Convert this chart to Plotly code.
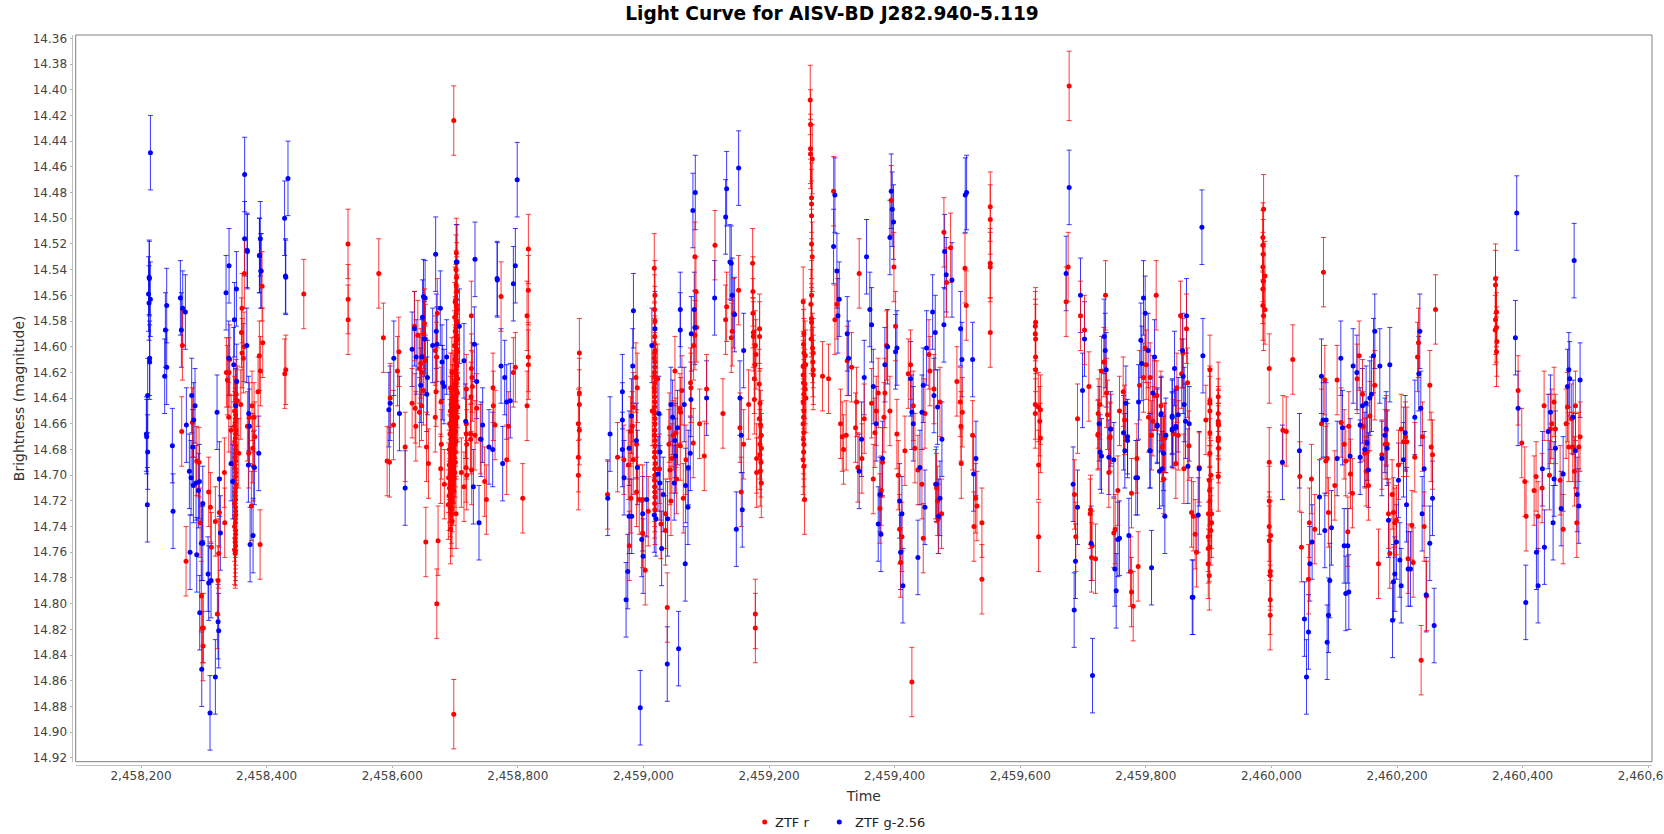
import plotly.graph_objects as go

T0 = 2458000
TITLE = "Light Curve for AISV-BD J282.940-5.119"
RED_ERR = 0.027
BLUE_ERR = 0.029

RED_2018 = [(264.8,14.666),(265.9,14.599),(271.7,14.767),(281.8,14.659),(288.7,14.689),(292.4,14.690),(294,14.737),(296.1,14.794),(297.7,14.819),(299.3,14.819),(298.8,14.833),(307.8,14.713),(310.5,14.725),(312.1,14.756),(318.4,14.736),(324.8,14.729),(332.8,14.698),(333.3,14.737),(323.7,14.761),(322.7,14.782),(321.6,14.808),(336,14.620),(340.2,14.620),(337.6,14.626),(341.3,14.610),(339.7,14.655),(343.4,14.665),(364.6,14.543),(360.9,14.570),(359.9,14.589),(364.1,14.600),(360.9,14.605),(363,14.609),(351.4,14.637),(358.8,14.645),(353.5,14.642),(355.6,14.683),(369.4,14.662),(376.8,14.646),(380,14.655),(381.1,14.670),(372.6,14.655),(371.5,14.683),(377.9,14.679),(379,14.693),(375.8,14.724),(389.6,14.754),(386.4,14.635),(390.1,14.619),(388.5,14.607),(393.8,14.597),(392.8,14.553),(349,14.650),(350.5,14.656),(349,14.662),(350.5,14.668),(349.2,14.674),(350.5,14.680),(350,14.686),(349,14.692),(350.5,14.698),(349,14.704),(350.5,14.710),(350,14.716),(349,14.722),(350.5,14.728),(350,14.734),(349,14.740),(350.5,14.746),(350,14.752),(349,14.758),(350,14.761),(428.9,14.621),(430.5,14.618),(459.2,14.559)]
RED_2018_PEAK = [(350.2,14.645),(350.6,14.653),(350.1,14.659),(350.8,14.665),(350.3,14.671),(350.7,14.677),(350.2,14.683),(350.6,14.689),(350.1,14.695),(350.5,14.701),(350.9,14.707),(350.2,14.713),(350.6,14.719),(350.3,14.725),(350.7,14.731),(350.2,14.737),(350.6,14.743),(350.1,14.749),(350.5,14.755),(350.3,14.759)]
RED_2019 = [(529.6,14.520),(529.8,14.563),(529.8,14.579),(578.6,14.543),(586,14.593),(591.9,14.689),(595.6,14.690),(596.7,14.640),(602,14.661),(608.4,14.619),(610.5,14.604),(620.6,14.678),(631.7,14.644),(636.5,14.648),(637.6,14.662),(643.4,14.651),(646.6,14.646),(635.4,14.584),(640.8,14.591),(649.8,14.634),(651.4,14.582),(650.3,14.590),(653,14.594),(645.5,14.613),(647.1,14.620),(652.4,14.611),(643.4,14.617),(654.6,14.678),(657.7,14.691),(653.5,14.752),(671.8,14.574),(668.6,14.603),(669.7,14.635),(668.6,14.655),(677.7,14.643),(670.8,14.608),(701.6,14.730),(689.4,14.723),(683,14.707),(677.1,14.695),(678.2,14.676),(710.1,14.698),(714.3,14.709),(718.6,14.700),(726,14.576),(727,14.624),(727.6,14.631),(726,14.617),(718,14.633),(725.5,14.639),(734.5,14.648),(718,14.660),(718,14.668),(725,14.668),(731.8,14.669),(725,14.672),(718.6,14.676),(717.5,14.694),(726.5,14.696),(740.3,14.672),(747.2,14.705),(749.9,14.719),(760.5,14.632),(761,14.646),(763.7,14.661),(773.3,14.561),(784.9,14.662),(782.3,14.688),(792.9,14.620),(796.1,14.616),(807.8,14.718),(816.8,14.524),(816.8,14.556),(814.7,14.576),(816.8,14.608),(816.8,14.614),(814.7,14.646),(671,14.800),(673,14.751),(698,14.424),(698,14.886),(702.1,14.527),(701.5,14.540),(702.5,14.546),(701.8,14.552),(702.6,14.557),(701.3,14.563),(702.2,14.568),(701.7,14.574),(702.8,14.580),(701.4,14.585),(702.3,14.591),(701.6,14.596),(702.7,14.602),(701.2,14.607),(702.1,14.612),(701.6,14.618),(702.4,14.623),(701.1,14.628),(702,14.634),(700.6,14.639),(701.8,14.645),(700.9,14.650),(701.5,14.656),(700.4,14.660),(695,14.620),(693,14.632),(696,14.641),(692.5,14.650),(694.5,14.658),(697,14.664),(692,14.668),(694,14.672),(696.5,14.677),(692.8,14.681),(695.2,14.686),(693.4,14.690),(697.4,14.695),(692.2,14.699),(694.8,14.704),(696,14.708),(693.2,14.712),(695.5,14.717),(692.6,14.721),(694.2,14.726)]
RED_2019_PEAK = [(700.1,14.565),(703.2,14.571),(699.5,14.577),(704,14.583),(700.4,14.588),(703.6,14.594),(699.2,14.599),(704.2,14.604),(700,14.610),(703.1,14.615),(699.8,14.620),(704.3,14.625),(698.9,14.630),(703.8,14.636),(699.4,14.641),(704.4,14.647),(698.3,14.652),(703.4,14.655),(699,14.662),(700.8,14.666),(698.2,14.670),(701.4,14.674),(697.6,14.678),(700.2,14.682),(698.8,14.686),(700.6,14.690),(697.9,14.694),(699.6,14.698),(690.8,14.692),(689.7,14.702),(691.2,14.710),(698.6,14.702),(690.4,14.716),(697.8,14.712),(691,14.680),(699,14.676),(691.5,14.660),(698.4,14.660),(694,14.645),(696.8,14.632),(695.8,14.650),(693.6,14.662),(695,14.674),(694.2,14.694),(695.7,14.700),(693.8,14.730),(695.2,14.736),(692.9,14.742)]
RED_2020 = [(898,14.605),(898,14.636),(898,14.645),(896.4,14.660),(898,14.665),(896.4,14.686),(896.4,14.700),(942.9,14.715),(958.8,14.686),(968.9,14.688),(975.8,14.692),(988.1,14.624),(990.2,14.632),(983.8,14.647),(979.6,14.666),(982.2,14.662),(989.1,14.676),(983.8,14.688),(989.1,14.713),(980.1,14.718),(993.4,14.719),(998.7,14.719),(977.4,14.755),(998.7,14.745),(1002.9,14.774),(1007.7,14.728),(1017.3,14.539),(1018.3,14.560),(1017.8,14.571),(1018.3,14.580),(1017.8,14.605),(1018.3,14.612),(1017.8,14.623),(1022.6,14.625),(1017.3,14.632),(1017.8,14.639),(1014.1,14.650),(1017.8,14.647),(1018.3,14.656),(1017.8,14.665),(1018.3,14.673),(1017.8,14.682),(1018.9,14.691),(1018.3,14.700),(1025.7,14.695),(1017.8,14.709),(1018.3,14.717),(1018.3,14.727),(1027.9,14.738),(1035.3,14.730),(1035.3,14.743),(1038,14.803),(1043.8,14.720),(1050.2,14.619),(1041.2,14.663),(1040.6,14.676),(1042.2,14.696),(1047.5,14.669),(1045.4,14.687),(1051.8,14.667),(1052.8,14.703),(1061.3,14.634),(1058.2,14.648),(1059.2,14.651),(1058.7,14.677),(1063.5,14.718),(1067.7,14.688),(1075.7,14.632),(1075.1,14.628),(1079.4,14.675),(1082,14.530),(1083.6,14.557),(1079.9,14.599),(1082,14.591),(1084.7,14.585),(1089.5,14.660),(1100.6,14.633),(1096.9,14.685),(1113.9,14.521),(1126.6,14.652),(1132.5,14.569),(1130.9,14.579),(1139.9,14.593),(1141.5,14.588),(1143.6,14.574),(1151.6,14.556),(1155.8,14.713),(1153.7,14.663),(1159.6,14.676),(1167.5,14.645),(1173.9,14.535),(1174.4,14.557),(1174.4,14.574),(1175,14.589),(1175,14.592),(1178.2,14.599),(1179.2,14.606),(1177.6,14.614),(1176.6,14.625),(1185,14.586),(1185,14.592),(1176.6,14.641),(1184.5,14.629),(1185.6,14.644),(1184.5,14.656),(1186.6,14.661),(1187.7,14.669),(1185.6,14.676),(1188,14.679),(1185.6,14.684),(1180.3,14.687),(1187.2,14.690),(1180.3,14.698),(1186.1,14.697),(1187.7,14.706),(1178.2,14.808),(1178.2,14.819)]
RED_2020_PEAK = [(1018,14.592),(1017.6,14.598),(1018.4,14.603),(1017.5,14.609),(1018.2,14.616),(1017.7,14.620),(1018.3,14.628),(1017.6,14.635),(1018.1,14.643),(1017.7,14.652),(1018.4,14.660),(1017.6,14.669),(1018.2,14.677),(1017.8,14.686),(1018.3,14.695),(1017.6,14.704),(1018.2,14.713),(1017.9,14.722)]
RED_2021 = [(1265.6,14.408),(1266.1,14.427),(1266.1,14.446),(1266.1,14.450),(1268.8,14.454),(1267.7,14.484),(1267.7,14.489),(1267.7,14.498),(1267.7,14.520),(1268.8,14.530),(1267.7,14.560),(1266.7,14.567),(1254.4,14.565),(1255.5,14.590),(1267.7,14.578),(1267.7,14.581),(1267.2,14.594),(1269.3,14.601),(1257.6,14.607),(1270.4,14.605),(1269.8,14.612),(1270.4,14.618),(1270.4,14.622),(1254.4,14.615),(1254.4,14.622),(1258.2,14.614),(1257.1,14.629),(1257.6,14.633),(1258.7,14.640),(1254.4,14.643),(1255.5,14.650),(1254.4,14.660),(1255.5,14.676),(1254.4,14.688),(1255.5,14.693),(1256.6,14.719),(1285.2,14.623),(1294.8,14.625),(1302.8,14.479),(1304.9,14.579),(1308.1,14.567),(1324.5,14.611),(1331.4,14.616),(1343.6,14.543),(1313.9,14.660),(1316.6,14.670),(1322.9,14.669),(1318.7,14.680),(1339.4,14.643),(1337.8,14.663),(1351.6,14.656),(1347.9,14.687),(1363.3,14.644),(1373.9,14.636),(1370.7,14.650),(1368.6,14.667),(1384.5,14.636),(1387.2,14.599),(1392.5,14.650),(1383,14.655),(1394.6,14.486),(1398.9,14.538),(1401.5,14.584),(1403.6,14.668),(1416.4,14.681),(1421.7,14.621),(1425.4,14.614),(1429.7,14.646),(1432.3,14.679),(1448.3,14.652),(1454.6,14.606),(1456.2,14.619),(1462.6,14.633),(1472.2,14.643),(1478.5,14.511),(1482.8,14.550),(1489.1,14.523),(1499.2,14.627),(1504.5,14.643),(1507.7,14.651),(1505.6,14.662),(1512,14.539),(1514.1,14.568),(1524.2,14.669),(1552.3,14.491),(1552.3,14.501),(1552.3,14.535),(1552.3,14.538),(1552.3,14.589),(1341.5,14.694),(1366,14.703),(1380.8,14.690),(1378.7,14.712),(1376.6,14.726),(1405.8,14.700),(1407.9,14.742),(1411.6,14.748),(1409.5,14.768),(1427.5,14.861),(1437.1,14.696),(1443.5,14.707),(1445.6,14.749),(1465.2,14.707),(1466.8,14.710),(1468.4,14.720),(1469.5,14.734),(1474.8,14.730),(1506.1,14.691),(1529,14.718),(1531.1,14.724),(1526.3,14.740),(1539,14.737),(1539,14.781)]
RED_2021_PEAK = [(1255,14.598),(1255.6,14.605),(1254.9,14.628),(1255.4,14.637),(1255,14.655),(1255.3,14.667),(1254.8,14.672),(1255.2,14.682)]
RED_2022 = [(1624.5,14.581),(1624,14.584),(1624,14.590),(1624.5,14.594),(1624.5,14.608),(1624.5,14.618),(1624,14.645),(1624,14.652),(1628.8,14.647),(1629.3,14.692),(1629.3,14.748),(1632.2,14.649),(1631.2,14.658),(1632.2,14.671),(1677.9,14.397),(1676.3,14.538),(1673.1,14.565),(1696,14.576),(1702.4,14.587),(1709.3,14.631),(1691.2,14.656),(1724.1,14.652),(1726.8,14.645),(1735.8,14.560),(1733.2,14.612),(1729.4,14.619),(1737.4,14.636),(1739,14.653),(1742.7,14.671),(1723.6,14.669),(1758.1,14.650),(1764,14.635),(1766.1,14.657),(1790,14.630),(1799,14.601),(1800.6,14.614),(1796.3,14.624),(1807,14.624),(1816.5,14.560),(1813.9,14.638),(1817.6,14.638),(1804.3,14.655),(1811.2,14.658),(1824,14.646),(1809.1,14.669),(1830.3,14.671),(1826.1,14.678),(1849.4,14.632),(1855.3,14.576),(1864.8,14.586),(1859,14.605),(1856.9,14.621),(1866.4,14.628),(1843.6,14.668),(1851.6,14.669),(1868.6,14.677),(1895.6,14.657),(1902,14.618),(1902,14.642),(1902,14.644),(1902,14.650),(1902,14.667),(1915.3,14.639),(1915.3,14.652),(1915.3,14.658),(1915.8,14.661),(1915.8,14.671),(1915.8,14.679),(1686.4,14.715),(1688.5,14.748),(1711.9,14.727),(1711.4,14.730),(1714.6,14.755),(1713.5,14.764),(1719.9,14.765),(1724.1,14.668),(1741.1,14.698),(1743.2,14.670),(1744.8,14.664),(1755.5,14.712),(1749,14.745),(1751.2,14.742),(1777.2,14.714),(1785.7,14.687),(1787.8,14.771),(1775.6,14.775),(1777.2,14.791),(1779.9,14.802),(1828.2,14.703),(1829.8,14.671),(1860.6,14.695),(1847.8,14.691),(1885,14.694),(1872.8,14.729),(1875.5,14.732),(1878.6,14.746),(1880.8,14.760),(1902,14.683),(1903.6,14.700),(1901,14.704),(1901.5,14.712),(1902,14.720),(1899.9,14.730),(1904.7,14.730),(1904.7,14.737),(1903.6,14.743),(1899.4,14.748),(1901.5,14.756),(1899.4,14.757),(1899.4,14.769),(1901,14.778),(1915.3,14.701),(1915.3,14.660),(1915.3,14.671),(1915.3,14.673)]
RED_2023 = [(1987.5,14.493),(1986.4,14.515),(1986.4,14.521),(1987,14.528),(1986.4,14.538),(1989.6,14.545),(1987,14.549),(1986.4,14.555),(1986.4,14.568),(1989.6,14.571),(1987.5,14.576),(1996.5,14.617),(2018.3,14.665),(2023.6,14.666),(1996.5,14.690),(1996.5,14.720),(1996.5,14.740),(1996.5,14.751),(1998.7,14.747),(1998.1,14.775),(1998.1,14.778),(1998.1,14.797),(1998.1,14.809),(2034,14.610),(2045.2,14.701),(2063.7,14.703),(2047.8,14.756),(2060.5,14.737),(2069,14.742),(2059,14.781),(2082.9,14.542),(2085,14.626),(2079.7,14.660),(2088.7,14.687),(2086.6,14.689),(2090.8,14.729),(2104.6,14.626),(2111,14.659),(2115.8,14.676),(2123.2,14.662),(2118.4,14.689),(2100.9,14.708),(2125.9,14.699),(2129,14.714),(2121.6,14.744),(2136.5,14.625),(2139.7,14.607),(2145,14.637),(2146,14.662),(2156.7,14.654),(2164.6,14.630),(2148.7,14.683),(2152.4,14.682),(2150.8,14.697),(2154.5,14.708),(2170.5,14.769),(2175.8,14.684),(2182.7,14.665),(2181.1,14.676),(2184.3,14.676),(2192.2,14.715),(2186.4,14.730),(2194.4,14.729),(2196.5,14.737),(2199.1,14.735),(2188.5,14.761),(2202.3,14.692),(2206.6,14.664),(2213.5,14.670),(2210.3,14.674),(2215.6,14.674),(2217.7,14.765),(2225.7,14.768),(2223.6,14.739),(2228.3,14.686),(2232.6,14.608),(2234.2,14.597),(2240.6,14.670),(2243.2,14.740),(2246.9,14.794),(2238.4,14.844),(2252.2,14.630),(2254.4,14.678),(2256.5,14.684),(2261.3,14.571)]
RED_2024 = [(2356.8,14.547),(2356.8,14.552),(2358.4,14.573),(2356.8,14.579),(2358.4,14.585),(2356.3,14.587),(2359,14.596),(2358.4,14.604),(2392.8,14.634),(2398.6,14.675),(2403.4,14.705),(2405.5,14.732),(2418.3,14.712),(2421.4,14.701),(2424.6,14.732),(2431,14.710),(2434.2,14.646),(2442.7,14.700),(2444.3,14.664),(2446.4,14.660),(2450.1,14.643),(2452.2,14.664),(2459.7,14.704),(2464.5,14.742),(2469.2,14.660),(2471.4,14.647),(2473.5,14.678),(2477.7,14.656),(2479.8,14.678),(2484.1,14.646),(2482.5,14.697),(2486.2,14.737),(2489.4,14.678),(2491.5,14.670)]

BLUE_2018 = [(215,14.449),(213,14.546),(212,14.559),(213.3,14.547),(212.8,14.566),(214.9,14.563),(213.8,14.609),(213.8,14.612),(210.6,14.638),(208.5,14.668),(209,14.670),(210.6,14.682),(210.1,14.723),(240.9,14.568),(238.8,14.587),(240.9,14.616),(237.7,14.623),(249.9,14.677),(251,14.728),(262.7,14.562),(266.4,14.570),(264.3,14.587),(270.6,14.573),(280.7,14.638),(286,14.646),(283.9,14.657),(272.2,14.661),(282.3,14.678),(277,14.697),(279.7,14.702),(283.4,14.708),(287.6,14.706),(293,14.705),(291.4,14.712),(298.3,14.722),(278.1,14.760),(288.7,14.762),(296.1,14.753),(298.3,14.753),(306.8,14.777),(307.8,14.784),(311.5,14.782),(293.5,14.807),(322.7,14.814),(323.7,14.821),(296.7,14.851),(318.4,14.857),(309.9,14.885),(326.4,14.745),(324.8,14.703),(321.1,14.651),(335.4,14.558),(340.2,14.537),(351.9,14.555),(348.7,14.579),(347.6,14.614),(339.7,14.609),(352.4,14.627),(350.8,14.646),(343.4,14.691),(346,14.705),(369.4,14.526),(368.4,14.599),(388.5,14.529),(391.2,14.541),(430.5,14.546),(371.5,14.652),(372.6,14.662),(371,14.692),(380.6,14.694),(387.5,14.683),(378.4,14.747),(373.7,14.754),(365,14.466),(428.6,14.500),(434,14.469),(365,14.516),(390,14.516),(388.8,14.529),(391,14.541),(369,14.525),(430,14.545)]
BLUE_2019 = [(631.7,14.602),(635.4,14.586),(638.1,14.608),(647.1,14.608),(602.5,14.609),(596.7,14.644),(594.6,14.649),(611.5,14.652),(620.6,14.710),(649.8,14.561),(652.4,14.562),(648.2,14.577),(651.4,14.594),(645.5,14.630),(655.1,14.637),(656.1,14.624),(669.2,14.528),(703.2,14.534),(731.8,14.532),(767.4,14.548),(792.9,14.551),(796.1,14.537),(676.6,14.570),(706.9,14.584),(670.2,14.588),(664.4,14.599),(671.3,14.598),(679.3,14.612),(686.7,14.608),(680.3,14.628),(682.5,14.631),(714.3,14.611),(730.8,14.598),(734.5,14.627),(717,14.658),(744,14.661),(741.4,14.672),(729.2,14.709),(738.2,14.737),(754.1,14.678),(760,14.680),(775.9,14.691),(773.3,14.615),(779.1,14.624),(782.3,14.643),(788.1,14.642),(799,14.470),(767,14.547),(702,14.534)]
BLUE_2020 = [(946.9,14.668),(943.2,14.718),(966.5,14.635),(966.5,14.657),(984.1,14.572),(983,14.615),(966.5,14.680),(969.2,14.702),(980.9,14.654),(988.8,14.673),(977.2,14.679),(990.4,14.694),(977.2,14.732),(981.4,14.732),(1005.3,14.719),(998.9,14.730),(997.3,14.750),(999.5,14.763),(975,14.775),(972.4,14.797),(995,14.881),(1038,14.847),(1056,14.835),(1031.6,14.715),(1029,14.757),(1017.3,14.731),(1019.9,14.734),(1038.5,14.734),(1023.1,14.699),(1024.7,14.652),(1026.3,14.682),(1026.3,14.706),(1013.5,14.599),(1018.3,14.586),(1058.7,14.571),(1058.7,14.587),(1043.8,14.645),(1046.5,14.655),(1054.4,14.663),(1050.2,14.673),(1051.2,14.685),(1049.1,14.706),(1065,14.645),(1067.2,14.708),(1071.4,14.694),(1074.6,14.683),(1070.9,14.725),(1066.6,14.769),(1075.7,14.641),(1081,14.571),(1076.2,14.590),(1082,14.585),(1078.8,14.494),(1082.6,14.480),(1100.6,14.640),(1113.4,14.562),(1130.9,14.499),(1132.5,14.477),(1151.6,14.461),(1137.8,14.534),(1139.9,14.535),(1141.5,14.560),(1145.2,14.575),(1159.6,14.603),(1153.7,14.640),(1155.8,14.669),(1147.9,14.742),(1157.4,14.727)]
BLUE_2021 = [(1394.6,14.479),(1396.2,14.493),(1398.3,14.503),(1392.5,14.515),(1512.5,14.482),(1514.6,14.480),(1479.6,14.526),(1482.2,14.544),(1491.3,14.548),(1478.5,14.583),(1460.5,14.573),(1464.7,14.589),(1450.9,14.601),(1505.1,14.586),(1507.2,14.610),(1524.2,14.610),(1304.9,14.482),(1302.8,14.522),(1308.1,14.541),(1311.8,14.563),(1309.7,14.576),(1324.5,14.590),(1326.7,14.609),(1355.3,14.530),(1360.6,14.571),(1363.3,14.583),(1351.6,14.624),(1366,14.631),(1384.5,14.614),(1388.8,14.600),(1403.6,14.601),(1401.5,14.604),(1425.4,14.625),(1445.6,14.630),(1462.6,14.638),(1468.4,14.647),(1475.3,14.672),(1427.5,14.651),(1429.7,14.660),(1443.5,14.651),(1370.7,14.660),(1347.4,14.672),(1380.8,14.687),(1529.5,14.687),(1343.6,14.697),(1373.9,14.738),(1378.2,14.746),(1376.6,14.715),(1407.9,14.720),(1411.6,14.730),(1409.5,14.760),(1413.2,14.786),(1437.1,14.764),(1440.3,14.694),(1448.3,14.725),(1466.3,14.707),(1472.2,14.718),(1470,14.732),(1525.8,14.699)]
BLUE_2022 = [(1677.9,14.476),(1673.1,14.543),(1696,14.560),(1702.4,14.594),(1699.2,14.634),(1733.7,14.592),(1735.3,14.603),(1736.9,14.618),(1725.7,14.660),(1796.3,14.562),(1799,14.574),(1792.1,14.595),(1803.8,14.603),(1793.7,14.613),(1813.9,14.608),(1788.4,14.643),(1811.2,14.636),(1824,14.653),(1818.1,14.662),(1845.7,14.617),(1858.5,14.603),(1864.8,14.576),(1859.5,14.623),(1861.1,14.645),(1851.6,14.653),(1842,14.655),(1863.2,14.658),(1869.1,14.660),(1847.8,14.663),(1842,14.665),(1768.2,14.644),(1764.5,14.667),(1770.9,14.670),(1770.9,14.673),(1766.6,14.681),(1743.8,14.664),(1889.3,14.507),(1890.9,14.607),(1806.4,14.681),(1684.3,14.707),(1691.2,14.725),(1688,14.767),(1685.9,14.805),(1715.1,14.856),(1713,14.753),(1727.3,14.682),(1729.4,14.685),(1741.1,14.686),(1749,14.688),(1784.1,14.702),(1786.8,14.702),(1807,14.681),(1750.7,14.773),(1752.8,14.790),(1755.5,14.750),(1758.1,14.749),(1773,14.747),(1809.1,14.772),(1818.1,14.661),(1824.5,14.652),(1828.2,14.683),(1821.8,14.697),(1826.1,14.695),(1830.3,14.732),(1831.9,14.669),(1842,14.654),(1847.8,14.662),(1842,14.664),(1867,14.693),(1883.4,14.731),(1885,14.695),(1873.9,14.795),(1875,14.795)]
BLUE_2023 = [(2017.5,14.690),(2044.6,14.681),(2079.7,14.623),(2082.3,14.657),(2087.1,14.657),(2110.5,14.609),(2113.1,14.663),(2104.6,14.687),(2125.3,14.685),(2130.1,14.615),(2136,14.620),(2164.6,14.588),(2162.5,14.607),(2172.6,14.615),(2188.5,14.614),(2159.3,14.637),(2156.7,14.640),(2150.8,14.644),(2145,14.646),(2141.3,14.661),(2141.3,14.686),(2152.4,14.675),(2148.7,14.680),(2154.5,14.696),(2076.5,14.717),(2085,14.743),(2095.6,14.741),(2064.8,14.752),(2061.1,14.769),(2115.8,14.755),(2121.6,14.755),(2092.9,14.782),(2090.8,14.809),(2088.7,14.830),(2052.6,14.812),(2059,14.822),(2055.8,14.857),(2118.4,14.792),(2123.2,14.791),(2182.7,14.664),(2180.6,14.669),(2184.3,14.679),(2175.8,14.687),(2202.3,14.704),(2186.4,14.735),(2215.1,14.723),(2199.1,14.752),(2204.5,14.766),(2217.7,14.773),(2221.4,14.773),(2196.5,14.777),(2194.4,14.783),(2206.6,14.786),(2192.8,14.813),(2236.3,14.588),(2234.7,14.621),(2237.9,14.648),(2228.3,14.655),(2213,14.667),(2210.3,14.688),(2243.2,14.695),(2256.5,14.718),(2240,14.730),(2252.2,14.753),(2246.4,14.793),(2259.1,14.817)]
BLUE_2024 = [(2390.6,14.496),(2388.5,14.593),(2392.8,14.648),(2482,14.533),(2473.5,14.618),(2475,14.625),(2471.4,14.631),(2491.5,14.626),(2444.3,14.651),(2440.6,14.666),(2480.4,14.655),(2452.2,14.679),(2431.5,14.695),(2484.1,14.681),(2450.1,14.703),(2464.5,14.699),(2486.8,14.715),(2489.4,14.724),(2461.3,14.726),(2448.5,14.737),(2434.7,14.756),(2422,14.760),(2424.6,14.786),(2405,14.799)]

RED = (RED_2018 + RED_2018_PEAK + RED_2019 + RED_2019_PEAK + RED_2020 + RED_2020_PEAK
       + RED_2021 + RED_2021_PEAK + RED_2022 + RED_2023 + RED_2024)
BLUE = BLUE_2018 + BLUE_2019 + BLUE_2020 + BLUE_2021 + BLUE_2022 + BLUE_2023 + BLUE_2024

W, H = 1664, 834
LEFT, RIGHT, TOP, BOTTOM = 75.7, 1652.0, 35.0, 761.7
FONT = "DejaVu Sans"
RED_BAR = "rgba(255,0,0,0.88)"
BLUE_BAR = "rgba(0,0,255,0.88)"


def bars(points, bar_color, err):
    return go.Scatter(
        x=[T0 + p[0] for p in points], y=[p[1] for p in points],
        mode="markers", showlegend=False, hoverinfo="skip",
        marker=dict(size=1, opacity=0),
        error_y=dict(type="constant", value=err, color=bar_color, thickness=1, width=2.5),
    )


def dots(points, name, color):
    return go.Scatter(
        x=[T0 + p[0] for p in points], y=[p[1] for p in points],
        mode="markers", name=name, marker=dict(color=color, size=5),
    )


fig = go.Figure([
    bars(BLUE, BLUE_BAR, BLUE_ERR),
    bars(RED, RED_BAR, RED_ERR),
    dots(RED, "ZTF r", "#ff0000"),
    dots(BLUE, "ZTF g-2.56", "#0000ff"),
])

axis_common = dict(
    showgrid=False, zeroline=False, showline=True, linecolor="#c0c0c0", linewidth=1,
    ticks="outside", ticklen=2, tickcolor="#b0b0b0", tickwidth=1,
    tickfont=dict(family=FONT, size=12, color="#444444"),
    anchor="free", ticklabeloverflow="allow",
)
fig.update_layout(
    width=W, height=H,
    margin=dict(l=0, r=0, t=0, b=0, autoexpand=False),
    paper_bgcolor="white", plot_bgcolor="white",
    font=dict(family=FONT, color="#333333"),
    title=dict(text=f"<b>{TITLE}</b>", x=832 / W, xanchor="center", y=1 - 13 / H, yanchor="middle",
               font=dict(family=FONT, size=18.6, color="black")),
    xaxis=dict(
        axis_common, domain=[LEFT / W, RIGHT / W], range=[2458096, 2460606],
        position=1 - 765.3 / H, tick0=2458200, dtick=200, tickformat=",d", ticklabelstandoff=-3,
        title=dict(text="Time", standoff=9, font=dict(family=FONT, size=14, color="#333333")),
    ),
    yaxis=dict(
        axis_common, domain=[1 - BOTTOM / H, 1 - TOP / H], range=[14.923, 14.3574],
        position=71.5 / W, tick0=14.36, dtick=0.02, tickformat=".2f",
        title=dict(text="Brightness (magnitude)", standoff=3, font=dict(family=FONT, size=14, color="#333333")),
    ),
    legend=dict(orientation="h", x=745 / W, xanchor="left", y=1 - 822 / H, yanchor="middle",
                font=dict(family=FONT, size=13, color="#222222"), itemwidth=30, tracegroupgap=0),
    shapes=[dict(type="rect", xref="x domain", yref="y domain", x0=0, x1=1, y0=0, y1=1,
                 line=dict(color="#808080", width=1), layer="below")],
)

POST = """
var gd = document.getElementById('{plot_id}');
document.body.style.margin = '0';
var targets = [[764.7, 775], [839.3, 855]];
function tidy() {
  var traces = gd.querySelectorAll('.legend .traces');
  traces.forEach(function (tr, i) {
    if (!targets[i]) return;
    var pt = tr.querySelector('.legendpoints path');
    var tx = tr.querySelector('.legendtext');
    if (!pt || !tx) return;
    var r = pt.getBoundingClientRect();
    var dx = targets[i][0] - (r.left + r.right) / 2;
    var m = /translate\\(([-\\d.]+)[ ,]+([-\\d.]+)\\)/.exec(tr.getAttribute('transform') || '');
    if (m) tr.setAttribute('transform', 'translate(' + (parseFloat(m[1]) + dx) + ',' + m[2] + ')');
    var t = tx.getBoundingClientRect();
    tx.setAttribute('x', parseFloat(tx.getAttribute('x')) + targets[i][1] - t.left);
  });
  var colors = ['%s', '%s'];
  gd.querySelectorAll('.errorbars').forEach(function (g, i) {
    if (!colors[i]) return;
    g.querySelectorAll('path.yerror').forEach(function (p) { p.style.stroke = colors[i]; });
  });
}
tidy();
gd.on('plotly_afterplot', tidy);
""" % (BLUE_BAR, RED_BAR)

fig.write_html("out.html", config={"displayModeBar": False}, post_script=POST)
